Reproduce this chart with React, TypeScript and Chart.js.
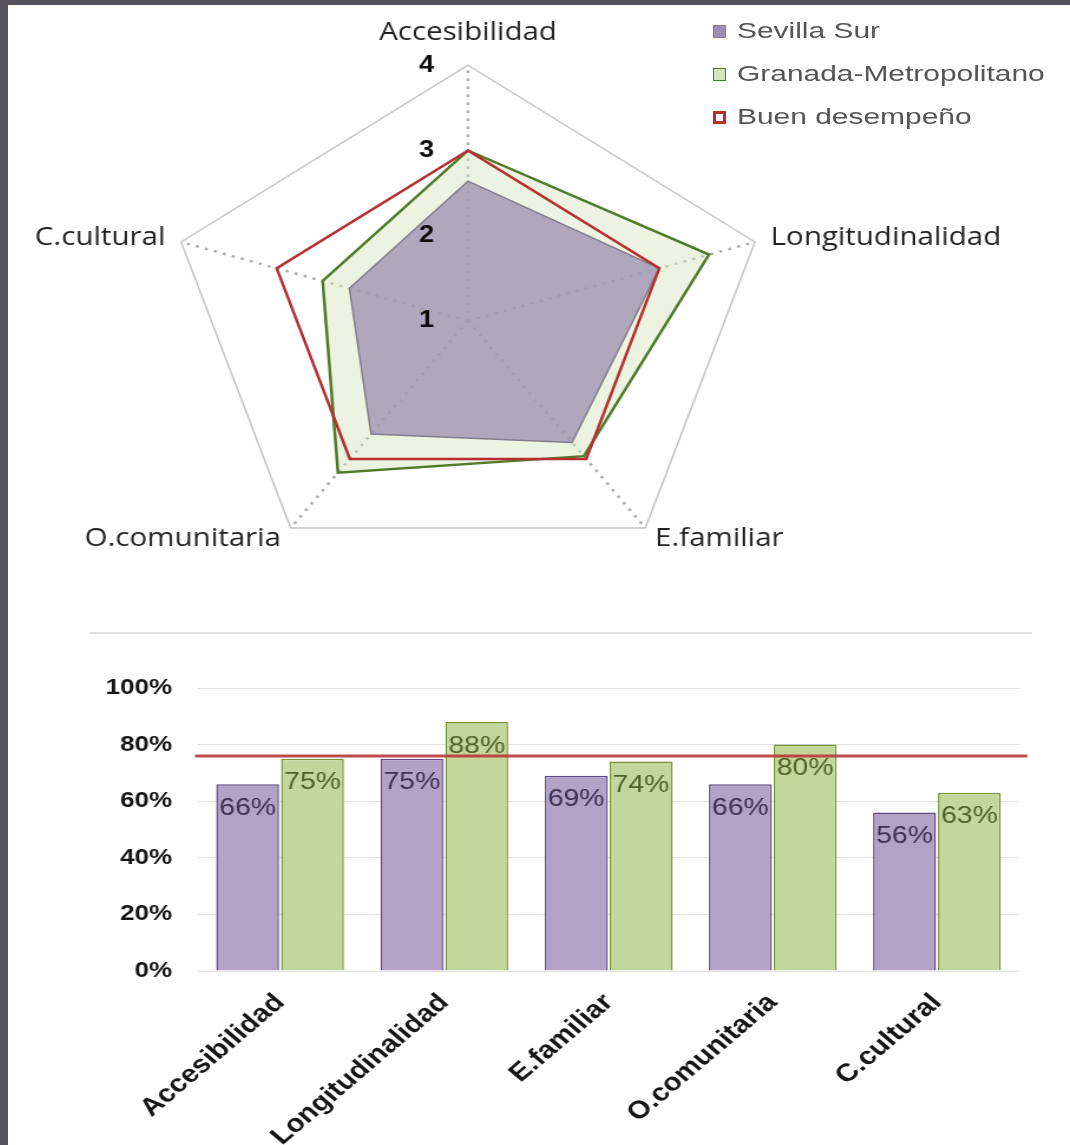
import React, { useEffect, useRef } from 'react';
import { Chart, registerables } from 'chart.js';

Chart.register(...registerables);

// ---------- data ----------
const radarAxes = ['Accesibilidad', 'Longitudinalidad', 'E.familiar', 'O.comunitaria', 'C.cultural'];
const seriesNames = ['Sevilla Sur', 'Granada-Metropolitano', 'Buen desempeño'];
const sevillaRadar = [2.64, 3.0, 2.76, 2.64, 2.24];
const granadaRadar = [3.0, 3.52, 2.96, 3.2, 2.52];
const buenRadar = [3, 3, 3, 3, 3];
const radarTicks = [1, 2, 3, 4];

const barCategories = ['Accesibilidad', 'Longitudinalidad', 'E.familiar', 'O.comunitaria', 'C.cultural'];
const sevillaPct = [66, 75, 69, 66, 56];
const granadaPct = [75, 88, 74, 80, 63];
const buenPct = 76;
const pctTicks = [0, 20, 40, 60, 80, 100];

// ---------- styling ----------
const SX = 1.18; // horizontal stretch of the original picture
const RADAR_W = 980;
const RADAR_H = 586;
const BAR_W = 872;
const BAR_H = 485;

const purpleFill = 'rgba(155,143,178,0.75)';
const purpleLine = '#837d8d';
const greenFill = 'rgba(215,228,189,0.45)';
const greenLine = '#4e7a2a';
const redLine = '#b52f31';

const barPurple = '#b3a2c7';
const barPurpleBorder = '#5f4a85';
const barGreen = '#c3d69b';
const barGreenBorder = '#77933c';
const barRedLine = 'rgba(185,55,58,0.9)';
const labelColors = ['#3f3151', '#4f6228'];

const opaque = (c: string) => {
  const m = /rgba\((\d+),\s*(\d+),\s*(\d+),/.exec(c);
  return m ? `rgb(${m[1]},${m[2]},${m[3]})` : c;
};

export default function App() {
  const radarRef = useRef<HTMLCanvasElement | null>(null);
  const barRef = useRef<HTMLCanvasElement | null>(null);
  const legendRef = useRef<HTMLDivElement | null>(null);

  useEffect(() => {
    const htmlLegend = {
      id: 'htmlLegend',
      afterUpdate(chart: any) {
        const el = legendRef.current;
        if (!el) return;
        while (el.firstChild) el.removeChild(el.firstChild);
        const items = chart.options.plugins.legend.labels
          .generateLabels(chart)
          .slice()
          .sort((a: any, b: any) => a.datasetIndex - b.datasetIndex);
        items.forEach((item: any) => {
          const ds = chart.data.datasets[item.datasetIndex];
          const row = document.createElement('div');
          row.style.display = 'flex';
          row.style.alignItems = 'center';
          row.style.height = '43px';
          const box = document.createElement('span');
          box.style.display = 'inline-block';
          box.style.boxSizing = 'border-box';
          box.style.width = '13px';
          box.style.height = '13px';
          box.style.background = ds.fill ? opaque(item.fillStyle) : '#ffffff';
          box.style.border = `${ds.fill ? 1.5 : 3}px solid ${item.strokeStyle}`;
          const txt = document.createElement('span');
          txt.textContent = item.text;
          txt.style.display = 'inline-block';
          txt.style.marginLeft = '11px';
          txt.style.font = '22px "Liberation Sans", Arial, sans-serif';
          txt.style.color = '#555555';
          txt.style.whiteSpace = 'nowrap';
          txt.style.transform = 'scaleX(1.36)';
          txt.style.transformOrigin = 'left center';
          row.appendChild(box);
          row.appendChild(txt);
          el.appendChild(row);
        });
      },
    };

    const radar = new Chart(radarRef.current as HTMLCanvasElement, {
      type: 'radar',
      data: {
        labels: radarAxes,
        datasets: [
          {
            label: seriesNames[0],
            data: sevillaRadar,
            backgroundColor: purpleFill,
            borderColor: purpleLine,
            borderWidth: 1.5,
            fill: true,
            pointRadius: 0,
            order: 2,
          },
          {
            label: seriesNames[1],
            data: granadaRadar,
            backgroundColor: greenFill,
            borderColor: greenLine,
            borderWidth: 2.5,
            fill: true,
            pointRadius: 0,
            order: 3,
          },
          {
            label: seriesNames[2],
            data: buenRadar,
            backgroundColor: 'rgba(0,0,0,0)',
            borderColor: redLine,
            borderWidth: 2.5,
            fill: false,
            pointRadius: 0,
            order: 1,
          },
        ],
      },
      options: {
        responsive: false,
        animation: false,
        devicePixelRatio: 1,
        layout: { padding: { top: 10, left: 0, right: 0, bottom: 0 } },
        elements: { line: { tension: 0, borderJoinStyle: 'miter' } },
        plugins: {
          legend: { display: false },
          tooltip: { enabled: false },
        },
        scales: {
          r: {
            min: radarTicks[0],
            max: radarTicks[radarTicks.length - 1],
            afterBuildTicks: (scale: any) => {
              // the radial scale never labels its first tick; duplicate it so "1" shows at the centre
              scale.ticks = [{ value: radarTicks[0] }, ...radarTicks.map((v) => ({ value: v }))];
            },
            ticks: {
              z: 1,
              stepSize: 1,
              showLabelBackdrop: false,
              backdropPadding: 0.5,
              color: '#0d0d0d',
              font: { family: '"Liberation Sans", Arial, sans-serif', size: 23, weight: 'bold' },
              callback: (v: any) => String(v) + ' '.repeat(11),
            },
            grid: {
              color: (c: any) =>
                c.tick && c.tick.value === radarTicks[radarTicks.length - 1] ? '#c4c4c4' : 'rgba(0,0,0,0)',
              lineWidth: 1.5,
            },
            angleLines: {
              color: 'rgba(150,150,150,0.8)',
              lineWidth: 2.5,
              borderDash: [2.5, 5.5],
            },
            pointLabels: {
              color: '#222222',
              font: { family: '"Open Sans", sans-serif', size: 25, lineHeight: 0.01 },
              padding: (c: any) => (c.index === 0 ? 20 : 2),
            },
          },
        },
      } as any,
      plugins: [htmlLegend],
    });

    const barExtras = {
      id: 'barExtras',
      afterDatasetsDraw(chart: any) {
        const ctx = chart.ctx;
        const { left, right } = chart.chartArea;
        const yPix = chart.scales.y.getPixelForValue(buenPct);
        // threshold line ("Buen desempeño")
        ctx.save();
        ctx.strokeStyle = barRedLine;
        ctx.lineWidth = 3;
        ctx.beginPath();
        ctx.moveTo(left - 2.5, yPix);
        ctx.lineTo(right + 7, yPix);
        ctx.stroke();
        ctx.restore();
        // value labels inside the top of each bar
        [0, 1].forEach((di) => {
          const meta = chart.getDatasetMeta(di);
          meta.data.forEach((el: any, i: number) => {
            const v = chart.data.datasets[di].data[i];
            ctx.save();
            ctx.font = '24px "Liberation Sans", Arial, sans-serif';
            ctx.fillStyle = labelColors[di];
            ctx.textAlign = 'center';
            ctx.textBaseline = 'middle';
            ctx.fillText(`${v}%`, el.x, el.y + 24);
            ctx.restore();
          });
        });
      },
    };

    const bar = new Chart(barRef.current as HTMLCanvasElement, {
      type: 'bar',
      data: {
        labels: barCategories,
        datasets: [
          {
            label: seriesNames[0],
            data: sevillaPct,
            backgroundColor: barPurple,
            borderColor: barPurpleBorder,
            borderWidth: 1.5,
            categoryPercentage: 0.79,
            barPercentage: 0.97,
          },
          {
            label: seriesNames[1],
            data: granadaPct,
            backgroundColor: barGreen,
            borderColor: barGreenBorder,
            borderWidth: 1.5,
            categoryPercentage: 0.79,
            barPercentage: 0.97,
          },
        ],
      },
      options: {
        responsive: false,
        animation: false,
        devicePixelRatio: 1,
        layout: { padding: { top: 28, left: 70, right: 15.2, bottom: 0 } },
        plugins: {
          legend: { display: false },
          tooltip: { enabled: false },
        },
        scales: {
          x: {
            grid: { display: false },
            border: { display: false },
            ticks: {
              autoSkip: false,
              minRotation: 45,
              maxRotation: 45,
              padding: 9,
              color: '#151515',
              font: { family: '"Liberation Sans", Arial, sans-serif', size: 25, weight: 'bold' },
            },
            afterFit: (s: any) => {
              s.height = 174;
            },
          },
          y: {
            min: pctTicks[0],
            max: pctTicks[pctTicks.length - 1],
            afterBuildTicks: (scale: any) => {
              scale.ticks = pctTicks.map((v) => ({ value: v }));
            },
            ticks: {
              padding: 22,
              color: '#151515',
              font: { family: '"Liberation Sans", Arial, sans-serif', size: 22, weight: 'bold', lineHeight: 0.5 },
              callback: (v: any) => `${v}%`,
            },
            grid: { color: '#e3e3e3', lineWidth: 1, drawTicks: false },
            border: { display: false },
            afterFit: (s: any) => {
              s.width = 91;
            },
          },
        },
      } as any,
      plugins: [barExtras],
    });

    return () => {
      radar.destroy();
      bar.destroy();
    };
  }, []);

  return (
    <div
      style={{
        position: 'absolute',
        left: 0,
        top: 0,
        width: 1070,
        height: 1145,
        background: '#56535f',
        overflow: 'hidden',
      }}
    >
      <div style={{ position: 'absolute', left: 8, top: 5, right: 0, bottom: 0, background: '#ffffff' }} />
      <canvas
        ref={radarRef}
        width={RADAR_W}
        height={RADAR_H}
        style={{ position: 'absolute', left: -110.2, top: 13, width: RADAR_W * SX, height: RADAR_H }}
      />
      <div ref={legendRef} style={{ position: 'absolute', left: 713, top: 9.5 }} />
      <div
        style={{
          position: 'absolute',
          left: 90,
          top: 632,
          width: 942,
          height: 0,
          borderTop: '2px solid #dedede',
        }}
      />
      <canvas
        ref={barRef}
        width={BAR_W}
        height={BAR_H}
        style={{ position: 'absolute', left: 8, top: 660, width: BAR_W * SX, height: BAR_H }}
      />
    </div>
  );
}
